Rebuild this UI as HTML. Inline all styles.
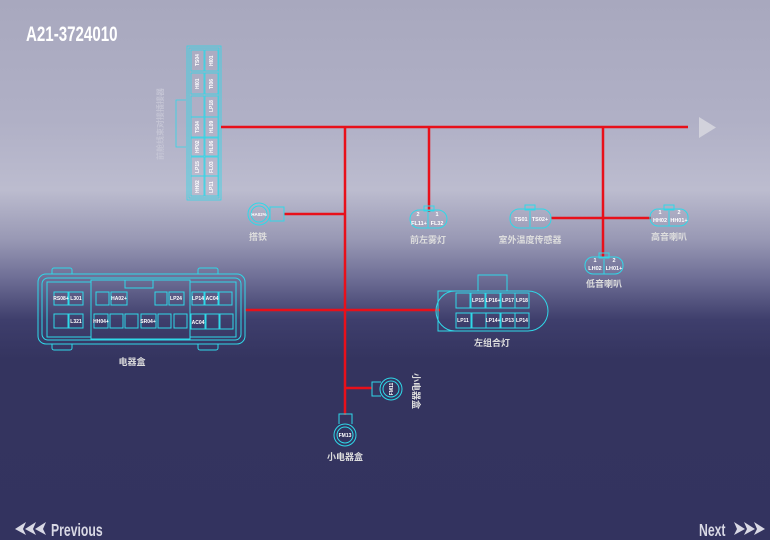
<!DOCTYPE html>
<html><head><meta charset="utf-8"><style>
html,body{margin:0;padding:0;background:#33335f;}
body{width:770px;height:540px;overflow:hidden;background:linear-gradient(180deg,#a8a8be 0px,#b0b0c6 120px,#bcbccf 190px,#9898b4 240px,#6c6c94 280px,#3e3e6c 320px,#34345f 360px,#33335f 540px);font-family:"Liberation Sans","Noto Sans CJK SC",sans-serif;}
svg{display:block;}
svg text{font-family:"Liberation Sans","Noto Sans CJK SC",sans-serif;}
</style></head><body>
<svg width="770" height="540" viewBox="0 0 770 540" xmlns="http://www.w3.org/2000/svg">
<text x="26" y="41" fill="#fff" font-size="21" font-weight="bold" transform="scale(0.72,1)" transform-origin="26 41">A21-3724010</text>

<!-- vertical connector -->
<g stroke="#2fd8e8" fill="none" stroke-width="0.8">
<rect x="187" y="46" width="34" height="154"/>
<rect x="189" y="48" width="30" height="150"/>
<path d="M186 100 H176 V147 H186"/>
<rect x="191" y="50" width="13" height="21"/><rect x="205" y="50" width="13" height="21"/>
<rect x="191" y="73" width="13" height="21"/><rect x="205" y="73" width="13" height="21"/>
<rect x="191" y="96" width="13" height="21"/><rect x="205" y="96" width="13" height="21"/>
<rect x="191" y="117" width="13" height="21"/><rect x="205" y="117" width="13" height="21"/>
<rect x="191" y="137" width="13" height="19"/><rect x="205" y="137" width="13" height="19"/>
<rect x="191" y="157" width="13" height="19"/><rect x="205" y="157" width="13" height="19"/>
<rect x="191" y="176" width="13" height="20"/><rect x="205" y="176" width="13" height="20"/>
</g>
<g fill="#fff" font-size="5" font-weight="bold">
<text transform="translate(199,66) rotate(-90)">TS04</text><text transform="translate(213,66) rotate(-90)">HI01</text>
<text transform="translate(199,89) rotate(-90)">HI01</text><text transform="translate(213,89) rotate(-90)">TI06</text>
<text transform="translate(213,112) rotate(-90)">LP18</text>
<text transform="translate(199,133) rotate(-90)">TS04</text><text transform="translate(213,133) rotate(-90)">HL09</text>
<text transform="translate(199,153) rotate(-90)">HP02</text><text transform="translate(213,153) rotate(-90)">HL06</text>
<text transform="translate(199,173) rotate(-90)">LP15</text><text transform="translate(213,173) rotate(-90)">FL03</text>
<text transform="translate(199,193) rotate(-90)">HH02</text><text transform="translate(213,193) rotate(-90)">LP11</text>
</g>
<text transform="translate(163,160) rotate(-90)" fill="#c4c4d4" font-size="8" font-weight="bold">前舱线束对接插接器</text>

<!-- red wires -->
<g stroke="#e8101a" stroke-width="2.5" fill="none">
<path d="M221 127 H688"/>
<path d="M345 127 V415"/>
<path d="M429 127 V212"/>
<path d="M603 127 V258"/>
<path d="M284 214 H345"/>
<path d="M551 218 H651"/>
<path d="M245 310 H440"/>
<path d="M345 388 H372"/>
</g>
<polygon points="699,117 716,127.5 699,138" fill="#d2d2dc"/>

<!-- 搭铁 -->
<g stroke="#2fd8e8" fill="none">
<circle cx="259" cy="214" r="11"/><circle cx="259" cy="214" r="8"/>
<rect x="270" y="207" width="14" height="14"/>
</g>
<text x="259" y="216" fill="#fff" font-size="4.5" font-weight="bold" text-anchor="middle">HA02%</text>
<text x="258" y="240" fill="#ddd" font-size="9" font-weight="bold" text-anchor="middle">搭铁</text>

<!-- small 2-pin connectors -->
<g stroke="#2fd8e8" fill="none">
<rect x="410" y="210" width="37" height="18" rx="9"/><rect x="424" y="206" width="10" height="5"/><path d="M428 212 V228"/>
<rect x="510" y="209" width="41" height="19" rx="9"/><rect x="525" y="205" width="10" height="5"/><path d="M530 211 V227"/>
<rect x="650" y="209" width="38" height="17" rx="8"/><rect x="664" y="205" width="10" height="5"/><path d="M669 211 V226"/>
<rect x="585" y="257" width="38" height="17" rx="8"/><rect x="599" y="253" width="10" height="5"/><path d="M604 259 V274"/>
</g>
<g fill="#fff" font-size="5.5" font-weight="bold" text-anchor="middle">
<text x="418" y="216">2</text><text x="437" y="216">1</text><text x="419" y="225">FL11+</text><text x="437" y="225">FL32</text>
<text x="521" y="221">TS01</text><text x="540" y="221">TS02+</text>
<text x="660" y="214">1</text><text x="679" y="214">2</text><text x="660" y="222">HH02</text><text x="679" y="222">HH01+</text>
<text x="595" y="262">1</text><text x="614" y="262">2</text><text x="595" y="270">LH02</text><text x="614" y="270">LH01+</text>
</g>
<g fill="#ddd" font-size="9" font-weight="bold" text-anchor="middle">
<text x="428" y="243">前左雾灯</text><text x="530" y="243">室外温度传感器</text><text x="669" y="240">高音喇叭</text><text x="604" y="287">低音喇叭</text>
</g>

<!-- electrical box -->
<g stroke="#2fd8e8" fill="none">
<rect x="38" y="274" width="207" height="70" rx="8"/>
<rect x="42" y="278" width="199" height="62" rx="6"/>
<path d="M52 274 v-4 a2 2 0 0 1 2 -2 h16 a2 2 0 0 1 2 2 v4 M198 274 v-4 a2 2 0 0 1 2 -2 h16 a2 2 0 0 1 2 2 v4"/>
<path d="M52 344 v4 a2 2 0 0 0 2 2 h16 a2 2 0 0 0 2 -2 v-4 M198 344 v4 a2 2 0 0 0 2 2 h16 a2 2 0 0 0 2 -2 v-4"/>
<rect x="47" y="282" width="44" height="55"/>
<rect x="91" y="280" width="99" height="59"/>
<rect x="190" y="282" width="46" height="55"/>
<rect x="125" y="280" width="28" height="8"/>
<rect x="54" y="292" width="14" height="13"/><rect x="69" y="292" width="14" height="13"/>
<rect x="96" y="292" width="13" height="13"/><rect x="111" y="292" width="16" height="13"/>
<rect x="155" y="292" width="12" height="13"/><rect x="169" y="292" width="15" height="13"/>
<rect x="192" y="292" width="12" height="13"/><rect x="205" y="292" width="13" height="13"/><rect x="219" y="292" width="13" height="13"/>
<rect x="54" y="314" width="14" height="14"/><rect x="69" y="314" width="14" height="14"/>
<rect x="94" y="314" width="14" height="14"/><rect x="110" y="314" width="13" height="14"/><rect x="125" y="314" width="13" height="14"/>
<rect x="141" y="314" width="15" height="14"/><rect x="158" y="314" width="13" height="14"/><rect x="174" y="314" width="13" height="14"/>
<rect x="191" y="314" width="14" height="15"/><rect x="206" y="314" width="13" height="15"/><rect x="220" y="314" width="13" height="15"/>
</g>
<g fill="#fff" font-size="5" font-weight="bold" text-anchor="middle">
<text x="61" y="300">RS08+</text><text x="76" y="300">L301</text><text x="119" y="300">HA02+</text>
<text x="176" y="300">LP24</text><text x="198" y="300">LP14</text><text x="212" y="300">AC04</text>
<text x="76" y="323">L321</text><text x="101" y="323">HH04+</text><text x="148" y="323">SR04+</text><text x="198" y="324">AC04</text>
</g>
<text x="132" y="365" fill="#ddd" font-size="9" font-weight="bold" text-anchor="middle">电器盒</text>

<!-- 左组合灯 -->
<g stroke="#2fd8e8" fill="none">
<rect x="478" y="275" width="29" height="16"/>
<path d="M438 291 H528 A20 20 0 0 1 528 331 H438 Z"/>
<path d="M455 291 A19 20 0 0 0 455 331"/>
<rect x="456" y="293" width="14" height="15"/><rect x="471" y="293" width="14" height="15"/><rect x="486" y="293" width="14" height="15"/><rect x="501" y="293" width="14" height="15"/><rect x="515" y="293" width="14" height="15"/>
<rect x="456" y="313" width="15" height="15"/><rect x="472" y="313" width="14" height="15"/><rect x="486" y="313" width="14" height="15"/><rect x="501" y="313" width="14" height="15"/><rect x="515" y="313" width="14" height="15"/>
</g>
<g fill="#fff" font-size="5" font-weight="bold" text-anchor="middle">
<text x="478" y="302">LP15</text><text x="493" y="302">LP16+</text><text x="508" y="302">LP17</text><text x="522" y="302">LP18</text>
<text x="463" y="322">LP11</text><text x="493" y="322">LP14+</text><text x="508" y="322">LP13</text><text x="522" y="322">LP14</text>
</g>
<text x="492" y="346" fill="#ddd" font-size="9" font-weight="bold" text-anchor="middle">左组合灯</text>

<!-- FM11 -->
<g stroke="#2fd8e8" fill="none">
<circle cx="391" cy="389" r="11"/><circle cx="391" cy="389" r="8"/>
<path d="M381 382 H372 V396 H381"/>
</g>
<text transform="translate(393,389) rotate(-90)" fill="#fff" font-size="5" font-weight="bold" text-anchor="middle">FM11</text>
<text transform="translate(413,373) rotate(90)" fill="#ddd" font-size="9" font-weight="bold">小电器盒</text>

<!-- FM13 -->
<g stroke="#2fd8e8" fill="none">
<circle cx="345" cy="435" r="11"/><circle cx="345" cy="435" r="8"/>
<path d="M339 424 V414 H352 V424"/>
</g>
<text x="345" y="437" fill="#fff" font-size="5" font-weight="bold" text-anchor="middle">FM13</text>
<text x="345" y="460" fill="#ddd" font-size="9" font-weight="bold" text-anchor="middle">小电器盒</text>

<!-- nav -->
<g fill="#d8d8e4">
<polygon points="15,529 26,522 23,529 26,535"/><polygon points="25,529 36,522 33,529 36,535"/><polygon points="35,529 46,522 43,529 46,535"/>
<polygon points="734,522 745,529 734,535 737,529"/><polygon points="744,522 755,529 744,535 747,529"/><polygon points="754,522 765,529 754,535 757,529"/>
</g>
<text x="51" y="536" fill="#d8d8e4" font-size="18" font-weight="bold" transform="scale(0.68,1)" transform-origin="51 536">Previous</text>
<text x="699" y="536" fill="#d8d8e4" font-size="18" font-weight="bold" transform="scale(0.68,1)" transform-origin="699 536">Next</text>
</svg>
</body></html>
